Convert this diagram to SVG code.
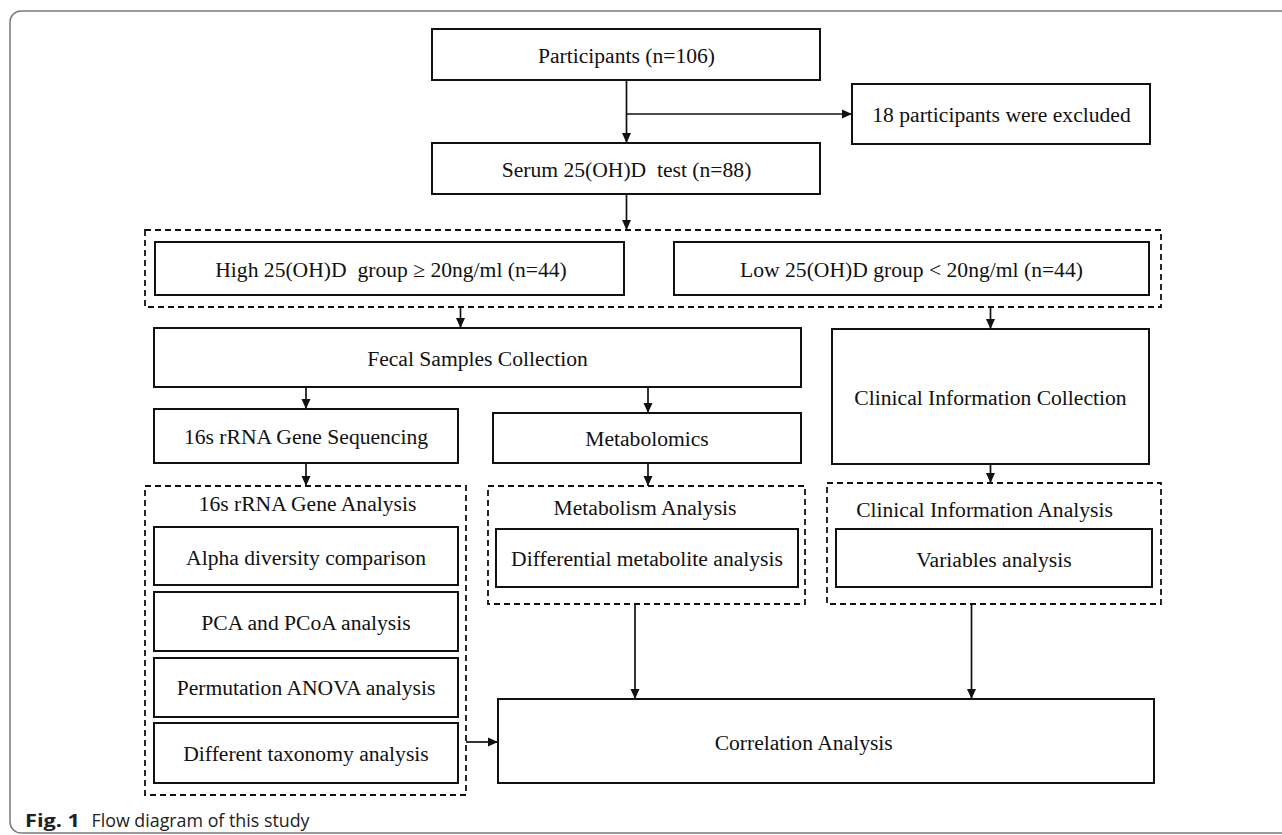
<svg xmlns="http://www.w3.org/2000/svg" width="1282" height="835" viewBox="0 0 1282 835">
<defs>
<style>
.box{fill:#fff;stroke:#111;stroke-width:2}
.dash{fill:none;stroke:#111;stroke-width:1.8;stroke-dasharray:6 4}
.t{font-family:"Liberation Serif","Times New Roman",serif;font-size:21.6px;fill:#111;text-anchor:middle}
.con{fill:none;stroke:#111;stroke-width:1.7}
.frame{fill:none;stroke:#7a7a7a;stroke-width:1.5}
.cap{font-family:"Open Sans","Noto Sans",sans-serif;font-size:18px;fill:#222}
</style>
<marker id="ah" viewBox="0 0 10 10" refX="10" refY="5" markerWidth="10" markerHeight="10" markerUnits="userSpaceOnUse" orient="auto">
<path d="M0,0.5 L10,5 L0,9.5 z" fill="#111"/>
</marker>
</defs>
<rect width="1282" height="835" fill="#fff"/>
<rect class="frame" x="10" y="11" width="1300" height="822" rx="11" ry="11"/>

<g id="participants"><rect class="box" x="432" y="29" width="388" height="51"/><text class="t" x="626.5" y="63">Participants (n=106)</text></g>
<g id="excluded"><rect class="box" x="852" y="84" width="298" height="60"/><text class="t" x="1001.5" y="122">18 participants were excluded</text></g>
<g id="serum"><rect class="box" x="432" y="143" width="388" height="51"/><text class="t" x="626.5" y="177" xml:space="preserve">Serum 25(OH)D  test (n=88)</text></g>
<g id="groups"><rect class="dash" x="145" y="230" width="1016" height="77"/></g>
<g id="high"><rect class="box" x="155" y="242" width="469" height="53"/><text class="t" x="391" y="277" xml:space="preserve">High 25(OH)D  group ≥ 20ng/ml (n=44)</text></g>
<g id="low"><rect class="box" x="674" y="242" width="475" height="53"/><text class="t" x="911.5" y="277">Low 25(OH)D group &lt; 20ng/ml (n=44)</text></g>
<g id="fecal"><rect class="box" x="154" y="328" width="647" height="59"/><text class="t" x="477.5" y="366">Fecal Samples Collection</text></g>
<g id="clinical-collection"><rect class="box" x="832" y="329" width="317" height="135"/><text class="t" x="990.5" y="404.5">Clinical Information Collection</text></g>
<g id="seq16s"><rect class="box" x="154" y="409" width="304" height="54"/><text class="t" x="306" y="443.5">16s rRNA Gene Sequencing</text></g>
<g id="metabolomics"><rect class="box" x="493" y="413" width="308" height="50"/><text class="t" x="647" y="446">Metabolomics</text></g>
<g id="analysis16s"><rect class="dash" x="145" y="486" width="321" height="309"/><text class="t" x="307.5" y="511">16s rRNA Gene Analysis</text></g>
<g id="alpha"><rect class="box" x="154" y="527" width="304" height="58"/><text class="t" x="306" y="564.5">Alpha diversity comparison</text></g>
<g id="pca"><rect class="box" x="154" y="592" width="304" height="59"/><text class="t" x="306" y="629.5">PCA and PCoA analysis</text></g>
<g id="permutation"><rect class="box" x="154" y="658" width="304" height="59"/><text class="t" x="306" y="695">Permutation ANOVA analysis</text></g>
<g id="taxonomy"><rect class="box" x="154" y="723" width="304" height="60"/><text class="t" x="306" y="761">Different taxonomy analysis</text></g>
<g id="metabolism-analysis"><rect class="dash" x="488" y="486" width="317" height="118"/><text class="t" x="645" y="515">Metabolism Analysis</text></g>
<g id="differential"><rect class="box" x="496" y="529" width="302" height="58"/><text class="t" x="647" y="566">Differential metabolite analysis</text></g>
<g id="clinical-analysis"><rect class="dash" x="827" y="483" width="334" height="121"/><text class="t" x="984.5" y="516.5">Clinical Information Analysis</text></g>
<g id="variables"><rect class="box" x="836" y="529" width="316" height="58"/><text class="t" x="994" y="566.5">Variables analysis</text></g>
<g id="correlation"><rect class="box" x="498" y="699" width="656" height="84"/><text class="t" x="803.7" y="750">Correlation Analysis</text></g>

<g id="connectors">
<path class="con" d="M626.5,80 V143" marker-end="url(#ah)"/>
<path class="con" d="M626.5,114 H852" marker-end="url(#ah)"/>
<path class="con" d="M626.5,194 V230" marker-end="url(#ah)"/>
<path class="con" d="M460.5,307 V328" marker-end="url(#ah)"/>
<path class="con" d="M990.5,307 V329" marker-end="url(#ah)"/>
<path class="con" d="M306,387 V409" marker-end="url(#ah)"/>
<path class="con" d="M648,387 V413" marker-end="url(#ah)"/>
<path class="con" d="M306,463 V486" marker-end="url(#ah)"/>
<path class="con" d="M648,463 V486" marker-end="url(#ah)"/>
<path class="con" d="M990.5,464 V483" marker-end="url(#ah)"/>
<path class="con" d="M635,604 V699" marker-end="url(#ah)"/>
<path class="con" d="M971.5,604 V699" marker-end="url(#ah)"/>
<path class="con" d="M466,742 H498" marker-end="url(#ah)"/>
</g>

<text class="cap" x="25" y="826.5"><tspan font-weight="bold" textLength="55" lengthAdjust="spacingAndGlyphs">Fig. 1</tspan><tspan x="91.5" textLength="218" lengthAdjust="spacingAndGlyphs">Flow diagram of this study</tspan></text>
</svg>
